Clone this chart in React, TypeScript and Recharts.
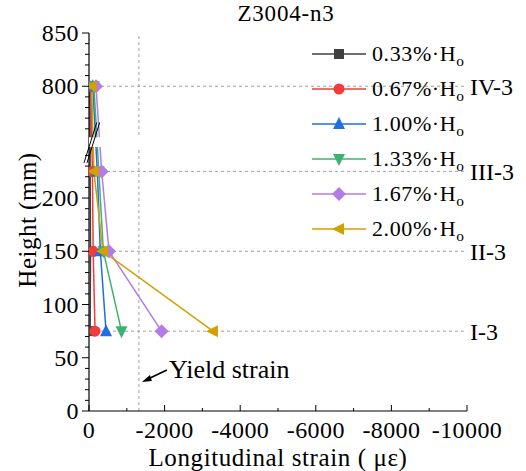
import React from "react";
import { LineChart, Line, XAxis, YAxis, ReferenceLine, ReferenceArea, Legend } from "recharts";

// measured heights (mm) and strains (με) per drift level
const heights = [75, 150, 225, 800];
const driftLabels = ["0.33%", "0.67%", "1.00%", "1.33%", "1.67%", "2.00%"];
const strain033 = [-30, -40, -30, -25];
const strain067 = [-160, -110, -90, -50];
const strain100 = [-450, -300, -220, -100];
const strain133 = [-860, -380, -260, -130];
const strain167 = [-1920, -530, -335, -185];
const strain200 = [-3280, -370, -130, -70];
const sectionLabels = ["I-3", "II-3", "III-3", "IV-3"];

const xTicks = [0, -1000, -2000, -3000, -4000, -5000, -6000, -7000, -8000, -9000, -10000];
const xLabelTicks = [0, -2000, -4000, -6000, -8000, -10000];
const yLowerTicks = [0, 10, 20, 30, 40, 50, 60, 70, 80, 90, 100, 110, 120, 130, 140, 150, 160, 170, 180, 190, 200, 210, 220, 230, 240];
const yUpperTicks = [760, 770, 780, 790, 800, 810, 820, 830, 840, 850];
const yLabelTicks = [0, 50, 100, 150, 200, 800, 850];
const yieldStrain = -1320;

// broken y axis: upper segment shifted down by this amount
const BREAK_SHIFT = 495;
const GAP_LO = 248;
const GAP_HI = 257;
const toAxis = (h: number) => (h > 500 ? h - BREAK_SHIFT : h);
const fromAxis = (v: number) => (v > GAP_LO ? v + BREAK_SHIFT : v);

const FONT = "Liberation Serif, Times New Roman, serif";

const series = [
  { name: driftLabels[0], vals: strain033, color: "#404040", shape: "square" },
  { name: driftLabels[1], vals: strain067, color: "#f03c3c", shape: "circle" },
  { name: driftLabels[2], vals: strain100, color: "#1e6ee6", shape: "up" },
  { name: driftLabels[3], vals: strain133, color: "#3cb371", shape: "down" },
  { name: driftLabels[4], vals: strain167, color: "#b47be6", shape: "diamond" },
  { name: driftLabels[5], vals: strain200, color: "#d4a000", shape: "left" },
];

function Marker({ shape, cx, cy, color }: { shape: string; cx: number; cy: number; color: string }) {
  const s = 6;
  if (shape === "square") return <rect x={cx - 5} y={cy - 5} width={10} height={10} fill={color} />;
  if (shape === "circle") return <circle cx={cx} cy={cy} r={5.5} fill={color} />;
  let pts = "";
  if (shape === "up") pts = `${cx},${cy - s - 1} ${cx + s},${cy + s - 1} ${cx - s},${cy + s - 1}`;
  if (shape === "down") pts = `${cx},${cy + s + 1} ${cx + s},${cy - s + 1} ${cx - s},${cy - s + 1}`;
  if (shape === "diamond") pts = `${cx},${cy - s - 1} ${cx + s + 1},${cy} ${cx},${cy + s + 1} ${cx - s - 1},${cy}`;
  if (shape === "left") pts = `${cx - s - 1},${cy} ${cx + s - 1},${cy - s} ${cx + s - 1},${cy + s}`;
  return <polygon points={pts} fill={color} />;
}

const YTick = (props: any) => {
  const { x, y, payload } = props;
  const real = fromAxis(payload.value);
  const major = yLabelTicks.includes(real);
  return (
    <g>
      <line x1={x - (major ? 7 : 4)} x2={x} y1={y} y2={y} stroke="#000" />
      {major && (
        <text x={x - 10} y={y} textAnchor="end" dominantBaseline="central" style={{ fontSize: 24, fontFamily: FONT, letterSpacing: 0.4 }} fill="#000">
          {real}
        </text>
      )}
    </g>
  );
};

const XTick = (props: any) => {
  const { x, y, payload } = props;
  const major = xLabelTicks.includes(payload.value);
  return (
    <g>
      <line x1={x} x2={x} y1={y} y2={y - (major ? 6 : 3)} stroke="#000" />
      {major && (
        <text x={x} y={y + 19} textAnchor="middle" dominantBaseline="central" style={{ fontSize: 24, fontFamily: FONT, letterSpacing: 0.4 }} fill="#000">
          {payload.value}
        </text>
      )}
    </g>
  );
};

const YieldLabel = (props: any) => {
  const { viewBox } = props;
  const x = viewBox.x;
  const bottom = viewBox.y + viewBox.height;
  const tx = x + 3;
  const ty = bottom - 29;
  return (
    <g>
      <line x1={x + 28} y1={bottom - 41} x2={tx + 4} y2={ty - 2} stroke="#000" strokeWidth={1.6} />
      <polygon points={`${tx},${ty} ${tx + 8},${ty - 7} ${tx + 10},${ty - 1}`} fill="#000" />
      <text x={x + 30} y={bottom - 33} style={{ fontSize: 26, fontFamily: FONT }} fill="#000">
        Yield strain
      </text>
    </g>
  );
};

const LegendContent = () => (
  <div style={{ fontFamily: FONT, fontSize: 22, color: "#000" }}>
    {series.map((s) => (
      <div key={s.name} style={{ height: 35, display: "flex", alignItems: "center" }}>
        <svg width={56} height={20} style={{ overflow: "visible" }}>
          <line x1={1} x2={55} y1={10} y2={10} stroke={s.color} strokeWidth={1.5} />
          <Marker shape={s.shape} cx={28} cy={10} color={s.color} />
        </svg>
        <span style={{ marginLeft: 5, whiteSpace: "nowrap", letterSpacing: 0.6 }}>
          {s.name}
          {"\u00B7"}H
          <sub style={{ fontSize: "0.7em", verticalAlign: "-0.3em", lineHeight: 0 }}>o</sub>
        </span>
      </div>
    ))}
  </div>
);

export default function App() {
  const yTicks = [...yLowerTicks, ...yUpperTicks.map(toAxis)];
  return (
    <div style={{ position: "absolute", left: 0, top: 0, width: 526, height: 471, background: "#fff", fontFamily: FONT }}>
      <div style={{ position: "absolute", left: 286, top: 13, transform: "translate(-50%, -50%)", fontSize: 23, lineHeight: 1, letterSpacing: 0.8, whiteSpace: "nowrap", fontFamily: FONT }}>
        Z3004-n3
      </div>
      <div
        style={{
          position: "absolute",
          left: 27,
          top: 220,
          transform: "translate(-50%, -50%) rotate(-90deg)",
          fontSize: 25,
          lineHeight: 1,
          letterSpacing: 0.5,
          whiteSpace: "nowrap",
          fontFamily: FONT,
        }}
      >
        Height (mm)
      </div>
      <div style={{ position: "absolute", left: 278, top: 457, transform: "translate(-50%, -50%)", fontSize: 25, lineHeight: 1, letterSpacing: 0.6, whiteSpace: "nowrap", fontFamily: FONT }}>
        Longitudinal strain ( με)
      </div>
      <LineChart width={526} height={471} margin={{ top: 33, right: 59, bottom: 10, left: 29 }} style={{ fontFamily: FONT }}>
        <XAxis
          xAxisId="main"
          type="number"
          dataKey="x"
          domain={[-10000, 0]}
          reversed
          ticks={xTicks}
          interval={0}
          tickSize={0}
          tickMargin={0}
          tickLine={false}
          tick={<XTick />}
          height={50}
          axisLine={{ stroke: "#000", strokeWidth: 1.2 }}
          allowDataOverflow
        />
        <XAxis xAxisId="top" orientation="top" type="number" domain={[-10000, 0]} reversed tick={false} tickLine={false} height={0} axisLine={{ stroke: "#555", strokeWidth: 1.2 }} />
        <YAxis
          yAxisId="main"
          type="number"
          domain={[0, 355]}
          ticks={yTicks}
          interval={0}
          tickSize={0}
          tickMargin={0}
          tickLine={false}
          tick={<YTick />}
          width={60}
          axisLine={{ stroke: "#000", strokeWidth: 1.2 }}
          allowDataOverflow
        />
        <YAxis yAxisId="right" orientation="right" type="number" domain={[0, 355]} tick={false} tickLine={false} width={0} axisLine={{ stroke: "#333", strokeWidth: 1.2 }} />
        {heights.map((h, i) => (
          <ReferenceLine
            key={h}
            xAxisId="main"
            yAxisId="main"
            y={toAxis(h)}
            stroke="#a0a0a0"
            strokeDasharray="3 3"
            label={{ value: sectionLabels[i], position: "right", offset: 3, fill: "#000", fontSize: 24, fontFamily: FONT }}
          />
        ))}
        <ReferenceLine xAxisId="main" yAxisId="main" x={yieldStrain} stroke="#a0a0a0" strokeDasharray="3 3" label={<YieldLabel />} />
        {series.map((s) => (
          <Line
            key={s.name}
            xAxisId="main"
            yAxisId="main"
            data={heights.map((h, i) => ({ x: s.vals[i], y: toAxis(h) }))}
            dataKey="y"
            name={s.name}
            stroke={s.color}
            strokeWidth={1.5}
            isAnimationActive={false}
            dot={(p: any) => <Marker key={`${s.name}-${p.index}`} shape={s.shape} cx={p.cx} cy={p.cy} color={s.color} />}
            activeDot={false}
          />
        ))}
        <ReferenceArea
          xAxisId="main"
          yAxisId="main"
          x1={-10000}
          x2={0}
          y1={GAP_LO}
          y2={GAP_HI}
          fill="#fff"
          fillOpacity={1}
          stroke="none"
          {...({ zIndex: 1000 } as any)}
        />
        <ReferenceLine xAxisId="main" yAxisId="main" segment={[{ x: 132, y: 233 }, { x: -204, y: 271 }]} stroke="#000" ifOverflow="visible" {...({ zIndex: 1100 } as any)} />
        <ReferenceLine xAxisId="main" yAxisId="main" segment={[{ x: 53, y: 233 }, { x: -283, y: 271 }]} stroke="#000" ifOverflow="visible" {...({ zIndex: 1100 } as any)} />
        <Legend layout="vertical" align="center" verticalAlign="middle" content={<LegendContent />} wrapperStyle={{ left: 311, top: 36, width: 170 }} />
      </LineChart>
    </div>
  );
}
